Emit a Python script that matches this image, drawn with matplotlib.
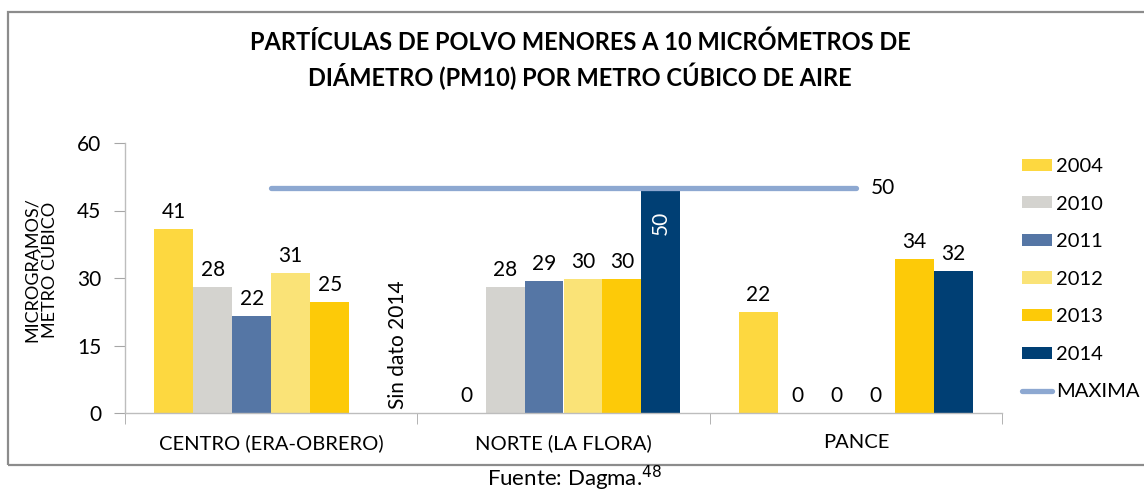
import matplotlib
matplotlib.use("Agg")
import matplotlib.pyplot as plt
from matplotlib.patches import Rectangle, Patch
from matplotlib.lines import Line2D
import numpy as np

plt.rcParams['font.family'] = ['Lato', 'DejaVu Sans']

categories = ["CENTRO (ERA-OBRERO)", "NORTE (LA FLORA)", "PANCE"]
years = ["2004", "2010", "2011", "2012", "2013", "2014"]
values = {
    "2004": [41.0, 0.0, 22.4],
    "2010": [28.0, 28.0, 0.0],
    "2011": [21.6, 29.3, 0.0],
    "2012": [31.2, 29.8, 0.0],
    "2013": [24.7, 29.7, 34.2],
    "2014": [None, 49.9, 31.6],
}
colors = ["#FDD840", "#D4D3CF", "#5576A5", "#FAE377", "#FDCA08", "#003F74"]
maxima = 50
yticks = [0, 15, 30, 45, 60]
title = "PARTÍCULAS DE POLVO MENORES A 10 MICRÓMETROS DE\nDIÁMETRO (PM10) POR METRO CÚBICO DE AIRE"

W, H = 1144, 492
fig = plt.figure(figsize=(W / 100, H / 100), dpi=100)
ax = fig.add_axes([125 / W, 1 - 413 / H, (1002 - 125) / W, (413 - 143) / H])

# outer frame
fig.patches.append(Rectangle((8 / W, 1 - 465 / H), 1.2, (465 - 12) / H,
                             transform=fig.transFigure, fill=False,
                             edgecolor="#8C8C8C", linewidth=1.6, zorder=0))

x = np.arange(len(categories))
bw = 0.8 / len(years)
for i, (yr, c) in enumerate(zip(years, colors)):
    pos = x + (i - 2.5) * bw
    for xi, v in zip(pos, values[yr]):
        if v is None:
            continue
        ax.bar(xi, v, width=bw, color=c, edgecolor="none", zorder=2)
        if yr == "2014" and v > 45:
            ax.annotate(f"{v:.0f}", (xi, v), xytext=(0, -16), textcoords="offset points",
                        ha="center", va="top", rotation=90, color="white", fontsize=15)
        else:
            ax.annotate(f"{v:.0f}", (xi, v), xytext=(0, 5), textcoords="offset points",
                        ha="center", va="bottom", color="black", fontsize=15)

# Sin dato 2014
ax.text(0 + 2.5 * bw + 0.1, 0.8, "Sin dato 2014", rotation=90, ha="center", va="bottom",
        fontsize=15, color="black")

# MAXIMA line
ax.plot([x[0], x[-1]], [maxima, maxima], color="#8DA8D1", linewidth=3.8,
        solid_capstyle="round", zorder=3)
ax.text(x[-1] + 0.05, maxima, f"{maxima}", ha="left", va="center", fontsize=15)

ax.set_xlim(-0.5, 2.5)
ax.set_ylim(0, 60)
ax.set_yticks(yticks)
ax.set_yticklabels([str(t) for t in yticks], fontsize=15)
ax.set_xticks(x)
ax.set_xticklabels(categories, fontsize=14.5)
ax.set_xticks([-0.5, 0.5, 1.5, 2.5], minor=True)
ax.tick_params(axis="x", which="major", length=0, pad=15)
ax.tick_params(axis="x", which="minor", length=8, color="#A6A6A6", direction="out")
ax.tick_params(axis="y", length=8, color="#A6A6A6", direction="out", pad=9)
for s in ["top", "right"]:
    ax.spines[s].set_visible(False)
for s in ["left", "bottom"]:
    ax.spines[s].set_color("#BDBDBD")
    ax.spines[s].set_linewidth(1.0)

fig.text(41 / W, 1 - 270 / H, "MICROGRAMOS/\nMETRO CÚBICO", rotation=90, ha="center",
         va="center", fontsize=13, linespacing=1.1)

fig.text(580 / W, 1 - 60 / H, title, ha="center", va="center", fontsize=17,
         fontweight="bold", linespacing=1.35)

handles = [Patch(facecolor=c, edgecolor="none") for c in colors]
handles.append(Line2D([0], [0], color="#8DA8D1", linewidth=3.8, solid_capstyle="round"))
fig.legend(handles, years + ["MAXIMA"], loc="upper left",
           bbox_to_anchor=(1022 / W, 1 - 158 / H), frameon=False, fontsize=14.5,
           handlelength=1.5, handleheight=0.55, handletextpad=0.2, labelspacing=1.02,
           borderaxespad=0, borderpad=0)

fig.text(575 / W, 1 - 478 / H, "Fuente: Dagma.$^{48}$", ha="center", va="center",
         fontsize=16)

fig.savefig("out.png", dpi=100)
